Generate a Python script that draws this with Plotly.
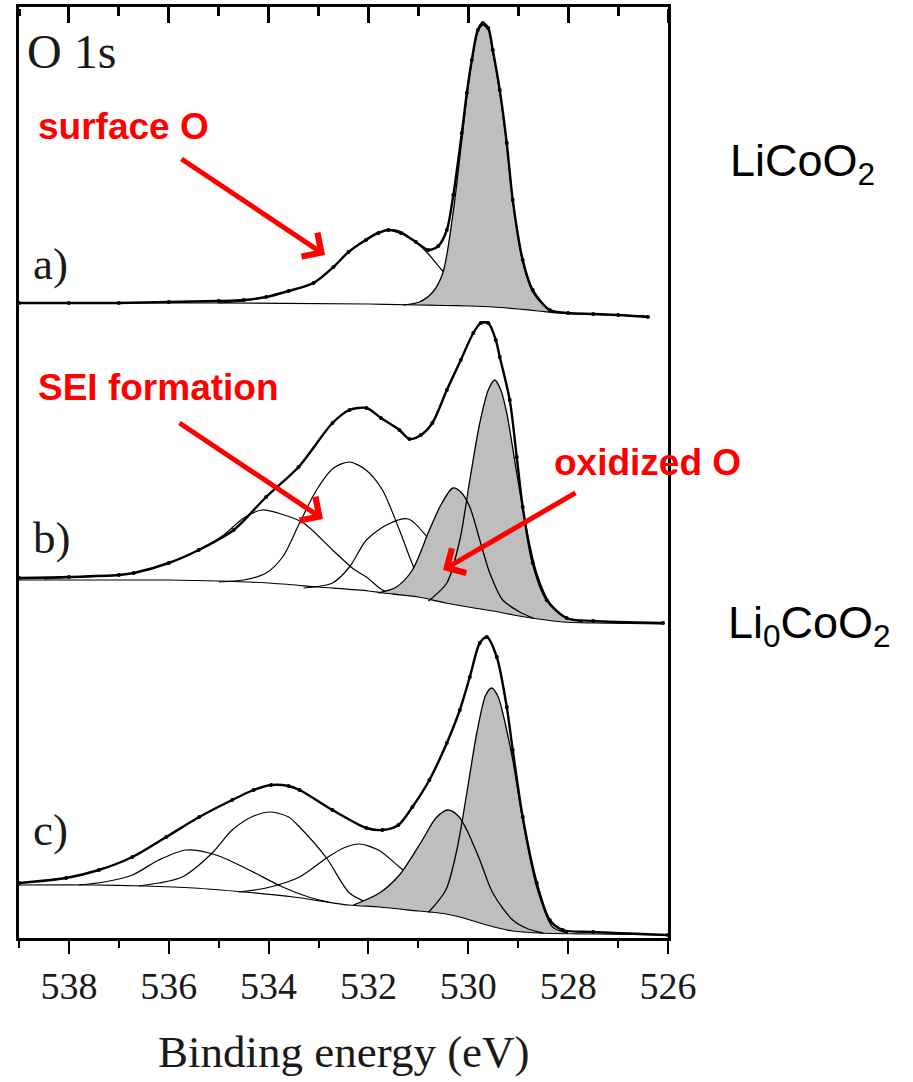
import plotly.graph_objects as go

# ---------------- Panel a) LiCoO2 ----------------
E_data_a = [539.0, 538.0, 537.0, 536.0, 535.0, 534.5, 534.05, 533.6, 533.1, 532.7, 532.4, 532.05,
            531.8, 531.6, 531.35, 531.05, 530.8, 530.6, 530.43, 530.3, 530.13, 530.03, 529.93,
            529.81, 529.71, 529.6, 529.51, 529.37, 529.23, 529.11, 528.91, 528.71, 528.37, 528.0,
            527.5, 527.0, 526.4]
I_data_a = [635, 635, 635, 636, 637, 638, 641, 647, 655, 671, 686, 698,
            705, 708, 705, 696, 688, 692, 708, 743, 805, 845, 878,
            908, 915, 910, 888, 848, 795, 738, 678, 648, 628, 625,
            624, 623, 621]
E_bg_a = [539.0, 535.0, 532.0, 531.0, 530.5, 530.0, 529.5, 529.0, 528.6, 528.2, 527.8, 527.0, 526.4]
I_bg_a = [635, 635, 634, 633, 632.5, 632, 631, 629, 627, 625, 624, 623, 622]
E_a1 = [535.0, 534.5, 534.05, 533.6, 533.1, 532.7, 532.4, 532.05, 531.8, 531.6, 531.38, 531.05,
        530.8, 530.53, 530.2, 529.9, 529.5, 529.2]
I_a1 = [635, 637, 641, 647, 655, 671, 686, 699, 706, 708, 707, 696,
        684, 668, 651, 640, 633, 630]
E_a2 = [531.3, 530.98, 530.71, 530.51, 530.31, 530.13, 530.03, 529.93, 529.81, 529.71, 529.6,
        529.51, 529.37, 529.23, 529.11, 528.91, 528.71, 528.5, 528.3, 528.0]
I_a2 = [633, 636, 646, 665, 723, 798, 841, 876, 906, 913, 908,
        886, 846, 793, 738, 676, 646, 633, 627, 624.5]

# ---------------- Panel b) ----------------
E_data_b = [539.0, 538.0, 537.0, 536.7, 536.0, 535.4, 534.7, 534.05, 533.4, 532.72, 532.38, 532.04,
            531.75, 531.38, 531.18, 530.95, 530.72, 530.43, 530.15, 529.9, 529.75, 529.6, 529.45,
            529.37, 529.17, 529.03, 528.91, 528.71, 528.43, 528.03, 527.5, 526.1]
I_data_b = [360, 361, 363, 365, 375, 388, 408, 441, 471, 515, 528, 530,
            520, 508, 499, 503, 515, 548, 578, 605, 615, 615, 598,
            581, 538, 481, 431, 375, 338, 320, 317, 315]
E_bg_b = [539.0, 536.0, 535.0, 534.0, 533.0, 532.0, 531.7, 531.0, 530.45, 530.0, 529.5, 529.1,
          528.6, 528.1, 527.5, 526.1]
I_bg_b = [358, 358, 357, 355, 351, 347, 345, 341, 335, 331, 327, 323,
          319, 316, 315, 314]
E_b1 = [538.5, 537.5, 537.0, 536.7, 536.0, 535.4, 534.9, 534.5, 534.13, 533.75, 533.3, 532.72,
        532.3, 532.04, 531.72, 531.4]
I_b1 = [359, 362, 363, 365, 375, 388, 403, 420, 428, 424, 415, 388,
        369, 361, 348, 343]
E_b2 = [535.0, 534.5, 534.05, 533.72, 533.38, 533.04, 532.7, 532.38, 532.05, 531.72, 531.38,
        531.04, 530.75, 530.5]
I_b2 = [356, 358, 365, 381, 415, 448, 470, 476, 468, 448, 408,
        365, 345, 337]
E_b3 = [533.3, 532.72, 532.38, 532.04, 531.6, 531.2, 530.78, 530.57, 530.31, 530.0, 529.75]
I_b3 = [350, 355, 371, 398, 414, 419, 398, 381, 358, 338, 329]
E_b4 = [531.8, 531.44, 531.12, 530.78, 530.55, 530.31, 530.15, 529.97, 529.77, 529.57, 529.31,
        528.97, 528.7]
I_b4 = [345, 351, 368, 408, 433, 450, 446, 431, 398, 365, 338,
        326, 320]
E_b5 = [530.8, 530.43, 530.17, 529.97, 529.77, 529.6, 529.47, 529.35, 529.23, 529.03, 528.83,
        528.63, 528.37, 528.03, 527.7]
I_b5 = [337, 355, 398, 458, 515, 548, 558, 548, 525, 465, 408,
        365, 335, 320, 316]

# ---------------- Panel c) Li0CoO2 ----------------
E_data_c = [539.0, 538.06, 537.4, 536.73, 536.05, 535.39, 534.73, 534.3, 533.95, 533.6, 533.38,
            532.72, 532.04, 531.72, 531.4, 531.12, 530.78, 530.43, 530.17, 529.97, 529.77, 529.63,
            529.43, 529.23, 529.11, 528.91, 528.63, 528.37, 528.11, 527.5, 526.0]
I_data_c = [55, 60, 68, 81, 101, 121, 138, 148, 153, 152, 148,
            128, 110, 108, 113, 131, 158, 195, 228, 261, 295, 301,
            281, 231, 188, 121, 55, 18, 8, 6, 3]
E_bg_c = [539.0, 537.5, 536.5, 535.5, 534.5, 533.5, 532.4, 531.78, 531.0, 530.5, 530.17, 529.77,
          529.4, 529.11, 528.6, 527.5, 526.0]
I_bg_c = [53, 53, 52, 50, 46, 41, 33, 31, 27, 24.5, 21, 15,
          10, 7, 5, 4, 3]
E_c1 = [537.8, 537.3, 536.73, 536.2, 535.65, 535.05, 534.39, 533.72, 533.2, 532.8]
I_c1 = [53, 56, 63, 78, 88, 83, 68, 51, 41, 36]
E_c2 = [536.6, 536.2, 535.73, 535.13, 534.73, 534.3, 533.95, 533.6, 533.38, 532.84, 532.38,
        532.0, 531.7]
I_c2 = [52, 55, 61, 85, 108, 122, 126, 121, 111, 80, 45, 35, 31]
E_c3 = [534.6, 534.05, 533.38, 532.84, 532.5, 532.18, 531.8, 531.38, 530.84, 530.5, 530.3]
I_c3 = [46, 50, 61, 80, 90, 94, 88, 71, 48, 32, 23]
E_c4 = [532.3, 531.78, 531.38, 530.92, 530.65, 530.41, 530.2, 530.03, 529.77, 529.51, 529.11,
        528.8, 528.5]
I_c4 = [33, 45, 63, 98, 120, 128, 122, 108, 78, 45, 18, 9, 5]
E_c5 = [530.8, 530.45, 530.23, 530.03, 529.83, 529.65, 529.53, 529.4, 529.31, 529.11, 528.91,
        528.63, 528.31, 528.0]
I_c5 = [25.5, 48, 88, 145, 205, 243, 250, 241, 225, 178, 118, 51, 11, 5]

# axis ticks
X_RANGE = [539, 526]
MAJOR_TICK0, MAJOR_DTICK, MINOR_DTICK = 538, 2, 1

SERIF = "Liberation Serif"
SANS = "Liberation Sans"
GRAY = "#BEBEBE"
RED = "#FF0000"
INK = "#1a1a1a"

fig = go.Figure()

def line_trace(E, I, width=1.2, xa="x"):
    return go.Scatter(x=E, y=I, mode="lines", xaxis=xa, yaxis="y",
                      line=dict(color="black", width=width, shape="spline", smoothing=0.8),
                      showlegend=False, hoverinfo="skip")

def bg_segment(E_comp, I_comp, E_bg, I_bg):
    lo, hi = min(E_comp), max(E_comp)
    xs = [E_comp[0]]
    ys = [I_comp[0]]
    for e, i in zip(E_bg, I_bg):
        if lo < e < hi:
            xs.append(e)
            ys.append(i)
    xs.append(E_comp[-1])
    ys.append(I_comp[-1])
    return xs, ys

# unfilled component lines (under fills)
for E, I in [(E_a1, I_a1), (E_b1, I_b1), (E_b2, I_b2), (E_b3, I_b3),
             (E_c1, I_c1), (E_c2, I_c2), (E_c3, I_c3)]:
    fig.add_trace(line_trace(E, I))

# gray filled components
gray = [(E_a2, I_a2, E_bg_a, I_bg_a), (E_b4, I_b4, E_bg_b, I_bg_b), (E_b5, I_b5, E_bg_b, I_bg_b),
        (E_c4, I_c4, E_bg_c, I_bg_c), (E_c5, I_c5, E_bg_c, I_bg_c)]
for E, I, Eb, Ib in gray:
    sx, sy = bg_segment(E, I, Eb, Ib)
    fig.add_trace(go.Scatter(x=sx, y=sy, mode="lines", line=dict(width=0, shape="spline", smoothing=0.8),
                             showlegend=False, hoverinfo="skip"))
    fig.add_trace(go.Scatter(x=E, y=I, mode="lines", line=dict(width=0, shape="spline", smoothing=0.8),
                             fill="tonexty", fillcolor=GRAY, showlegend=False, hoverinfo="skip"))
for E, I, Eb, Ib in gray:
    fig.add_trace(line_trace(E, I, 1.3))

# backgrounds
for E, I in [(E_bg_a, I_bg_a), (E_bg_b, I_bg_b), (E_bg_c, I_bg_c)]:
    fig.add_trace(line_trace(E, I, 1.2))

# data + envelope (panel a drawn on the overlaid top axis)
for E, I, xa in [(E_data_b, I_data_b, "x"), (E_data_c, I_data_c, "x"), (E_data_a, I_data_a, "x2")]:
    fig.add_trace(go.Scatter(x=E, y=I, mode="lines+markers", xaxis=xa, yaxis="y",
                             line=dict(color="black", width=2.4, shape="spline", smoothing=0.8),
                             marker=dict(color="black", size=4), showlegend=False, hoverinfo="skip"))

# thin strip subplot along the top edge, a second carrier for the downward top ticks
fig.add_trace(go.Scatter(x=E_bg_a[:1], y=I_bg_a[:1], xaxis="x3", yaxis="y3", mode="markers",
                         marker=dict(size=1, opacity=0), showlegend=False, hoverinfo="skip"))

axis_common = dict(range=X_RANGE, tickmode="linear", tick0=MAJOR_TICK0, dtick=MAJOR_DTICK,
                   showgrid=False, zeroline=False, tickcolor="black", automargin=False)

fig.update_layout(
    width=913, height=1082,
    margin=dict(l=19, r=245, t=7, b=144, autoexpand=False),
    paper_bgcolor="white", plot_bgcolor="rgba(0,0,0,0)",
    xaxis=dict(**axis_common, side="bottom", ticks="outside", ticklen=13, tickwidth=2,
               showline=True, mirror=True, linecolor="black", linewidth=2.5,
               minor=dict(dtick=MINOR_DTICK, ticks="outside", ticklen=7, tickwidth=2, tickcolor="black"),
               tickfont=dict(family=SERIF, size=38, color=INK)),
    xaxis2=dict(**axis_common, side="top", overlaying="x", anchor="y", ticks="inside",
                ticklen=14, tickwidth=2.5, showline=True, linecolor="black", linewidth=2.5,
                showticklabels=False,
                minor=dict(dtick=MINOR_DTICK, ticks="inside", ticklen=7, tickwidth=2.5, tickcolor="black")),
    xaxis3=dict(**axis_common, side="bottom", anchor="y3", ticks="outside", ticklen=14, tickwidth=2.5,
                showline=False, showticklabels=False,
                minor=dict(dtick=MINOR_DTICK, ticks="outside", ticklen=7, tickwidth=2.5, tickcolor="black")),
    yaxis=dict(range=[0, 931], domain=[0, 1], showline=True, mirror=True, linecolor="black",
               linewidth=2.5, ticks="", showticklabels=False, showgrid=False, zeroline=False,
               automargin=False),
    yaxis3=dict(domain=[0.9985, 1], anchor="x3", showticklabels=False, ticks="", showline=False,
                showgrid=False, zeroline=False, automargin=False),
)

def px(x):
    return (x - 19) / 649

def py(y):
    return (938 - y) / 931

ann = []
ann.append(dict(text="O 1s", x=px(25), y=py(51), xanchor="left", yanchor="middle",
                font=dict(family=SERIF, size=48, color=INK)))
for lab, yy in [("a)", 264), ("b)", 538), ("c)", 830)]:
    ann.append(dict(text=lab, x=px(31), y=py(yy), xanchor="left", yanchor="middle",
                    font=dict(family=SERIF, size=45, color=INK)))
for lab, xx, yy in [("surface O", 36, 126), ("SEI formation", 36, 388), ("oxidized O", 552, 462)]:
    ann.append(dict(text=lab, x=px(xx), y=py(yy), xanchor="left", yanchor="middle",
                    font=dict(family=SANS, size=37, color=RED, weight="bold")))
for tx, ty, hx, hy in [(180, 158, 325, 255), (178, 422, 323, 519), (577, 492, 443, 570)]:
    ann.append(dict(text="", x=px(hx), y=py(hy), ax=tx - hx, ay=ty - hy, showarrow=True,
                    arrowcolor=RED, arrowwidth=5, arrowhead=4, arrowsize=1.1, standoff=0))
ann.append(dict(text="LiCoO<sub>2</sub>", x=px(728), y=py(163), xanchor="left", yanchor="middle",
                font=dict(family=SANS, size=45, color="black")))
ann.append(dict(text="Li<sub>0</sub>CoO<sub>2</sub>", x=px(726), y=py(625), xanchor="left", yanchor="middle",
                font=dict(family=SANS, size=45, color="black")))
ann.append(dict(text="Binding energy (eV)", x=0.5, y=py(1052), xanchor="center", yanchor="middle",
                font=dict(family=SERIF, size=45, color=INK)))
for a in ann:
    a.update(xref="paper", yref="paper")
    if "showarrow" not in a:
        a["showarrow"] = False
fig.update_layout(annotations=ann)

fig.write_html("out.html", config={"displayModeBar": False},
               post_script="document.body.style.margin='0px';document.body.style.overflow='hidden';")
